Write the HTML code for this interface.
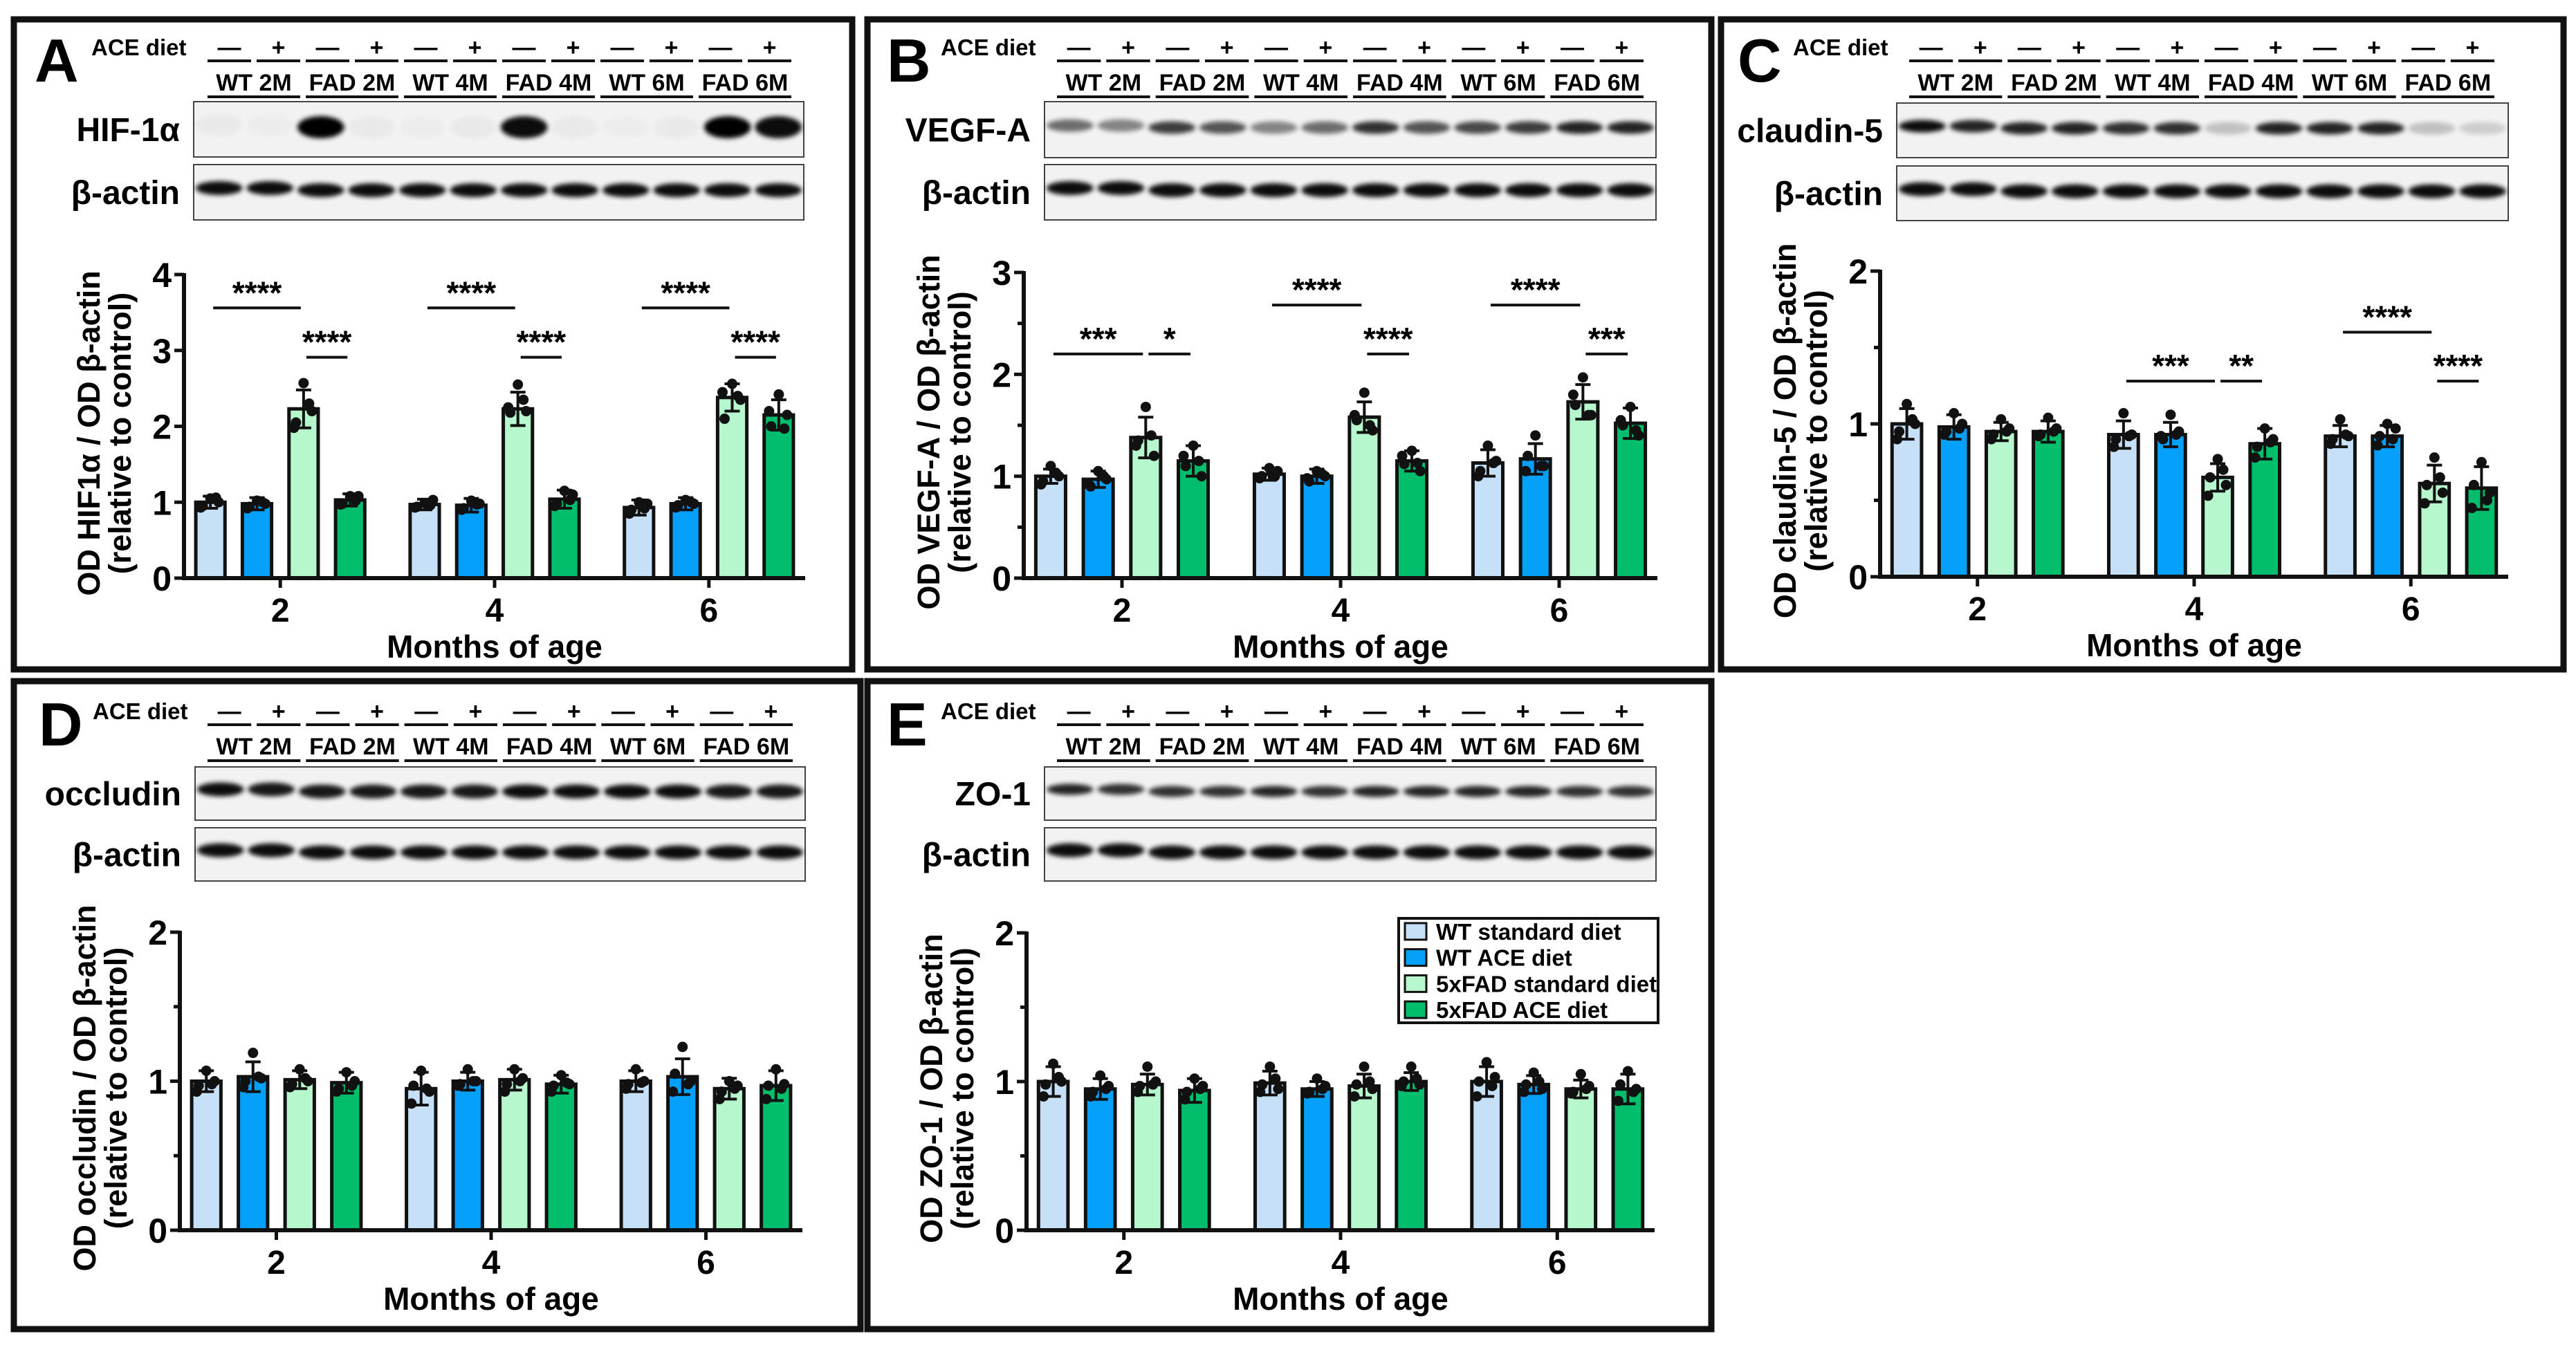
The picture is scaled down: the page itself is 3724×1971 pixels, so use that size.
<!DOCTYPE html>
<html><head><meta charset="utf-8"><title>Western blots and densitometry</title>
<style>
html,body{margin:0;padding:0;background:#fff;}
svg{display:block;font-family:"Liberation Sans",Arial,sans-serif;}
</style></head>
<body>
<svg id="fig" width="3724" height="1971" viewBox="0 0 3724 1971" xmlns="http://www.w3.org/2000/svg">
<defs>
<filter id="blur" x="-50%" y="-100%" width="200%" height="300%"><feGaussianBlur stdDeviation="3.5"/></filter>
</defs>
<rect x="0" y="0" width="3724" height="1971" fill="#fff"/>
</svg>
<script>
// ---------- shared categories ----------
const categories = ['2', '4', '6'];
const seriesNames = ['WT standard diet', 'WT ACE diet', '5xFAD standard diet', '5xFAD ACE diet'];
const laneGroups = ['WT 2M', 'FAD 2M', 'WT 4M', 'FAD 4M', 'WT 6M', 'FAD 6M'];

// ---------- Panel A: HIF-1a ----------
const hifMeans = [[1.0, 0.98, 2.23, 1.03], [0.97, 0.96, 2.23, 1.04], [0.93, 0.98, 2.38, 2.15]];
const hifSD = [[0.08, 0.08, 0.25, 0.08], [0.07, 0.09, 0.22, 0.12], [0.10, 0.08, 0.18, 0.20]];
const hifPoints = [
 [[1.05,0.95,1.0,0.93,1.06],[1.02,0.94,0.98,0.92,1.0],[2.57,2.05,2.2,1.98,2.3],[1.08,0.98,1.08,0.97,1.02]],
 [[0.99,0.94,1.03,0.93,0.96],[1.02,0.92,0.98,0.9,0.97],[2.55,2.18,2.2,2.25,2.35],[1.15,0.98,1.1,0.95,1.03]],
 [[1.0,0.9,0.98,0.85,0.92],[1.03,0.96,0.98,0.93,1.0],[2.56,2.1,2.35,2.45,2.4],[2.42,2.0,2.15,2.2,1.97]]];
const hifBrackets = [[0,0,2,3.56,'****'],[0,2,3,2.91,'****'],[1,0,2,3.56,'****'],[1,2,3,2.91,'****'],[2,0,2,3.56,'****'],[2,2,3,2.91,'****']];
const hifBands = [0.03,0.02,1.0,0.03,0.02,0.03,0.95,0.03,0.02,0.03,1.0,0.95];

// ---------- Panel B: VEGF-A ----------
const vegfMeans = [[1.0, 0.97, 1.38, 1.15], [1.02, 1.0, 1.58, 1.15], [1.13, 1.17, 1.73, 1.52]];
const vegfSD = [[0.07, 0.08, 0.20, 0.15], [0.06, 0.07, 0.15, 0.10], [0.13, 0.15, 0.17, 0.15]];
const vegfPoints = [
 [[1.1,0.95,1.0,0.92,1.03],[1.05,0.9,0.97,0.92,1.0],[1.68,1.35,1.2,1.3,1.4],[1.3,1.1,1.0,1.2,1.15]],
 [[1.08,1.0,1.05,0.98,1.0],[1.05,0.95,1.0,0.98,1.02],[1.82,1.55,1.45,1.6,1.5],[1.25,1.12,1.05,1.2,1.13]],
 [[1.3,1.05,1.15,1.0,1.13],[1.4,1.2,1.1,1.05,1.1],[1.97,1.7,1.6,1.8,1.6],[1.68,1.5,1.4,1.55,1.45]]];
const vegfBrackets = [[0,0,2,2.2,'***'],[0,2,3,2.2,'*'],[1,0,2,2.68,'****'],[1,2,3,2.2,'****'],[2,0,2,2.68,'****'],[2,2,3,2.2,'***']];
const vegfBands = [0.55,0.45,0.75,0.65,0.45,0.55,0.8,0.65,0.7,0.75,0.85,0.85];

// ---------- Panel C: claudin-5 ----------
const cldMeans = [[1.0, 0.98, 0.95, 0.95], [0.93, 0.93, 0.65, 0.87], [0.92, 0.92, 0.61, 0.58]];
const cldSD = [[0.10, 0.08, 0.06, 0.07], [0.09, 0.08, 0.09, 0.10], [0.07, 0.07, 0.12, 0.14]];
const cldPoints = [
 [[1.13,0.95,1.0,0.9,1.03],[1.07,0.95,1.0,0.93,0.97],[1.03,0.93,0.97,0.9,0.95],[1.04,0.93,0.97,0.92,0.95]],
 [[1.07,0.9,0.93,0.85,0.92],[1.06,0.9,0.95,0.92,0.93],[0.77,0.65,0.6,0.53,0.7],[0.97,0.85,0.9,0.78,0.88]],
 [[1.03,0.9,0.92,0.87,0.93],[1.0,0.92,0.97,0.86,0.9],[0.78,0.6,0.55,0.48,0.65],[0.75,0.6,0.55,0.45,0.5]]];
const cldBrackets = [[1,0,2,1.28,'***'],[1,2,3,1.28,'**'],[2,0,2,1.6,'****'],[2,2,3,1.28,'****']];
const cldBands = [0.95,0.85,0.85,0.85,0.8,0.8,0.2,0.85,0.85,0.85,0.2,0.15];

// ---------- Panel D: occludin ----------
const occMeans = [[1.0, 1.03, 1.01, 0.99], [0.95, 1.0, 1.01, 0.98], [1.0, 1.03, 0.95, 0.97]];
const occSD = [[0.07, 0.10, 0.06, 0.07], [0.11, 0.06, 0.07, 0.06], [0.07, 0.12, 0.07, 0.10]];
const occPoints = [
 [[1.07,0.97,1.0,0.93,0.98],[1.19,1.0,1.02,0.96,1.03],[1.08,0.98,1.0,0.96,1.02],[1.06,0.95,1.0,0.93,0.97]],
 [[1.07,0.97,0.93,0.85,0.95],[1.08,0.98,1.0,0.97,1.0],[1.08,0.98,1.02,0.93,1.0],[1.04,0.97,0.98,0.93,0.99]],
 [[1.08,0.98,1.0,0.95,0.99],[1.23,1.05,1.0,0.93,0.98],[1.0,0.93,0.97,0.88,0.95],[1.08,0.97,0.98,0.88,0.95]]];
const occBrackets = [];
const occBands = [0.95,0.9,0.9,0.9,0.9,0.9,0.95,0.95,0.95,0.95,0.9,0.9];

// ---------- Panel E: ZO-1 ----------
const zoMeans = [[1.0, 0.95, 0.98, 0.94], [0.99, 0.95, 0.97, 1.0], [1.0, 0.98, 0.95, 0.95]];
const zoSD = [[0.10, 0.07, 0.07, 0.08], [0.08, 0.05, 0.08, 0.06], [0.10, 0.06, 0.06, 0.10]];
const zoPoints = [
 [[1.12,0.98,1.0,0.9,1.03],[1.04,0.93,0.97,0.9,0.95],[1.1,0.97,1.0,0.93,0.98],[1.02,0.93,0.97,0.88,0.95]],
 [[1.1,0.98,0.95,0.93,1.02],[1.02,0.93,0.97,0.92,0.95],[1.1,0.98,0.95,0.9,1.0],[1.1,1.0,0.98,0.97,1.02]],
 [[1.13,1.0,1.03,0.9,0.97],[1.06,0.98,0.95,0.93,1.0],[1.05,0.93,0.97,0.92,0.95],[1.07,0.98,0.95,0.87,0.93]]];
const zoBrackets = [];
const zoBands = [0.85,0.8,0.8,0.8,0.85,0.8,0.85,0.85,0.85,0.85,0.8,0.8];

const actinBands = [0.95,0.95,0.95,0.95,0.95,0.95,0.95,0.95,0.95,0.95,0.95,0.95];

const colors = ['#c6e0f8', '#05a0f9', '#b6f7cd', '#00be6c'];
const NS = 'http://www.w3.org/2000/svg';
const svg = document.getElementById('fig');

function mk(tag, attrs, parent, text) {
  const el = document.createElementNS(NS, tag);
  for (const k in attrs) el.setAttribute(k, attrs[k]);
  if (text !== undefined) el.textContent = text;
  (parent || svg).appendChild(el);
  return el;
}

function drawPanel(p) {
  const g = mk('g', {});
  
  
  const fr = mk('rect', {x: p.box[0], y: p.box[1], width: p.box[2]-p.box[0], height: p.box[3]-p.box[1], fill: 'none', stroke: '#111', 'stroke-width': 9}, g);
  
  
  const h = p.hdr;
  const let_ = mk('text', {x: p.letterX, y: h + 118, 'font-size': 88, 'font-weight': 'bold'}, g, p.letter);
  
  
  const ace = mk('text', {x: p.aceX, y: h + 80, 'font-size': 33, 'font-weight': 'bold'}, g, 'ACE diet');
  
  
  const lw = (p.lanes[1] - p.lanes[0]) / 12;
  for (let i = 0; i < 12; i++) {
    const cx = p.lanes[0] + (i + 0.5) * lw;
    const t = mk('text', {x: cx, y: h + 80, 'font-size': 34, 'font-weight': 'bold', 'text-anchor': 'middle'}, g, i % 2 ? '+' : '—');
    
    
    mk('line', {x1: p.lanes[0] + i*lw + 4, x2: p.lanes[0] + (i+1)*lw - 4, y1: h + 88, y2: h + 88, stroke: '#111', 'stroke-width': 4}, g);
  }
  for (let j = 0; j < 6; j++) {
    const cx = p.lanes[0] + (2*j + 1) * lw;
    const t = mk('text', {x: cx, y: h + 131, 'font-size': 34, 'font-weight': 'bold', 'text-anchor': 'middle'}, g, laneGroups[j]);
    
    
    mk('line', {x1: p.lanes[0] + 2*j*lw + 4, x2: p.lanes[0] + (2*j+2)*lw - 4, y1: h + 140, y2: h + 140, stroke: '#111', 'stroke-width': 4}, g);
  }
  [[p.blot1, p.label, p.bands, p.bandH], [p.blot2, 'β-actin', actinBands, 10]].forEach((b, bi) => {
    const [yy, lab, bands, bh] = b;
    const r = mk('rect', {x: p.blotX[0], y: yy[0], width: p.blotX[1]-p.blotX[0], height: yy[1]-yy[0], fill: '#f2f2f2', stroke: '#444', 'stroke-width': 2}, g);
    
    
    const blw = (p.blotX[1] - p.blotX[0]) / 12;
    const cy = (yy[0] + yy[1]) / 2;
    bands.forEach((v, i) => {
      const e = mk('ellipse', {cx: p.blotX[0] + (i + 0.5) * blw, cy: cy - 3 + (i < 2 ? -3 : 0), rx: blw * 0.46, ry: bh, fill: '#000', opacity: v, filter: 'url(#blur)'}, g);
      
      
    });
    const tl = mk('text', {x: p.blotX[0] - 20, y: cy + 17, 'font-size': 48, 'font-weight': 'bold', 'text-anchor': 'end'}, g, lab);
    
    
  });
  const A = p.axis;
  const W = A.x1 - A.x0;
  const ys = v => A.y0 - (v / A.yMax) * (A.y0 - A.yTop);
  const gc = i => A.x0 + W * (0.155 + 0.345 * i);
  const bx = (i, s) => gc(i) + (s - 1.5) * W * 0.075;
  const bw = W * 0.047;
  const jitter = [0, -11, 12, -14, 8];
  for (let i = 0; i < 3; i++) {
    for (let s = 0; s < 4; s++) {
      const m = p.means[i][s], sd = p.sds[i][s], x = bx(i, s);
      const bar = mk('rect', {x: x - bw/2, y: ys(m), width: bw, height: A.y0 - ys(m), fill: colors[s], stroke: '#111', 'stroke-width': 5}, g);
      
      
      mk('line', {x1: x, x2: x, y1: ys(m + sd), y2: ys(m - sd), stroke: '#111', 'stroke-width': 4}, g);
      mk('line', {x1: x - 11, x2: x + 11, y1: ys(m + sd), y2: ys(m + sd), stroke: '#111', 'stroke-width': 4}, g);
      mk('line', {x1: x - 11, x2: x + 11, y1: ys(m - sd), y2: ys(m - sd), stroke: '#111', 'stroke-width': 4}, g);
      p.points[i][s].forEach((v, k) => {
        const c = mk('circle', {cx: x + jitter[k], cy: ys(v), r: 7.5, fill: '#111'}, g);
        
        
      });
    }
  }
  const ya = mk('line', {x1: A.x0, x2: A.x0, y1: A.yTop - 2, y2: A.y0 + 3, stroke: '#111', 'stroke-width': 6}, g);
  
  
  const xa = mk('line', {x1: A.x0 - 3, x2: A.x1, y1: A.y0, y2: A.y0, stroke: '#111', 'stroke-width': 6}, g);
  
  
  for (let v = 0; v <= A.yMax + 1e-9; v += A.minor ? 0.5 : 1) {
    const major = Math.abs(v - Math.round(v)) < 1e-6;
    mk('line', {x1: A.x0 - (major ? 14 : 9), x2: A.x0, y1: ys(v), y2: ys(v), stroke: '#111', 'stroke-width': 5}, g);
    if (major) {
      const t = mk('text', {x: A.x0 - 18, y: ys(v) + 18, 'font-size': 50, 'font-weight': 'bold', 'text-anchor': 'end'}, g, String(Math.round(v)));
      
      
    }
  }
  categories.forEach((c, i) => {
    mk('line', {x1: gc(i), x2: gc(i), y1: A.y0, y2: A.y0 + 14, stroke: '#111', 'stroke-width': 5}, g);
    const t = mk('text', {x: gc(i), y: A.y0 + 63, 'font-size': 48, 'font-weight': 'bold', 'text-anchor': 'middle'}, g, c);
    
    
  });
  const xt = mk('text', {x: (A.x0 + A.x1) / 2, y: A.y0 + 115, 'font-size': 46, 'font-weight': 'bold', 'text-anchor': 'middle'}, g, 'Months of age');
  
  
  const my = (A.y0 + A.yTop) / 2 + 10;
  const t1 = mk('text', {x: 0, y: 0, 'font-size': 45, 'font-weight': 'bold', 'text-anchor': 'middle', transform: `translate(${A.x0 - 122},${my}) rotate(-90)`}, g, p.ytitle);
  
  
  const t2 = mk('text', {x: 0, y: 0, 'font-size': 45, 'font-weight': 'bold', 'text-anchor': 'middle', transform: `translate(${A.x0 - 77},${my}) rotate(-90)`}, g, '(relative to control)');
  
  
  p.brackets.forEach(b => {
    const [gi, s1, s2, v, lab] = b;
    const x1 = bx(gi, s1) + 4, x2 = bx(gi, s2) - 4;
    const ln = mk('line', {x1: x1, x2: x2, y1: ys(v), y2: ys(v), stroke: '#111', 'stroke-width': 4}, g);
    
    
    const st = mk('text', {x: (x1 + x2) / 2, y: ys(v) - 6, 'font-size': 46, 'font-weight': 'bold', 'text-anchor': 'middle'}, g, lab);
    
    
  });
  if (p.legend) {
    const L = p.legend;
    const lg = mk('g', {}, g);
    
    
    mk('rect', {x: L[0], y: L[1], width: L[2] - L[0], height: L[3] - L[1], fill: '#fff', stroke: '#111', 'stroke-width': 4}, lg);
    const step = (L[3] - L[1]) / 4;
    seriesNames.forEach((n, s) => {
      const cy = L[1] + step * (s + 0.5);
      const e = mk('g', {}, lg);
      
      
      mk('rect', {x: L[0] + 9, y: cy - 12, width: 31, height: 24, fill: colors[s], stroke: '#111', 'stroke-width': 3}, e);
      mk('text', {x: L[0] + 54, y: cy + 12, 'font-size': 33, 'font-weight': 'bold'}, e, n);
    });
  }
}

drawPanel({letter: 'A', box: [20, 28, 1232, 968], hdr: 0, letterX: 50, aceX: 132, lanes: [296, 1148],
  blotX: [280, 1162], blot1: [147, 227], blot2: [238, 318], label: 'HIF-1α', bands: hifBands, bandH: 16,
  axis: {x0: 266, x1: 1164, y0: 836, yTop: 397, yMax: 4, minor: false},
  means: hifMeans, sds: hifSD, points: hifPoints, brackets: hifBrackets, ytitle: 'OD HIF1α / OD β-actin'});
drawPanel({letter: 'B', box: [1254, 28, 2474, 968], hdr: 0, letterX: 1282, aceX: 1360, lanes: [1524, 2380],
  blotX: [1510, 2394], blot1: [147, 228], blot2: [238, 318], label: 'VEGF-A', bands: vegfBands, bandH: 9,
  axis: {x0: 1480, x1: 2396, y0: 836, yTop: 394, yMax: 3, minor: true},
  means: vegfMeans, sds: vegfSD, points: vegfPoints, brackets: vegfBrackets, ytitle: 'OD VEGF-A / OD β-actin'});
drawPanel({letter: 'C', box: [2488, 28, 3706, 968], hdr: 0, letterX: 2512, aceX: 2592, lanes: [2756, 3610],
  blotX: [2742, 3626], blot1: [149, 228], blot2: [240, 319], label: 'claudin-5', bands: cldBands, bandH: 9,
  axis: {x0: 2718, x1: 3626, y0: 834, yTop: 392, yMax: 2, minor: true},
  means: cldMeans, sds: cldSD, points: cldPoints, brackets: cldBrackets, ytitle: 'OD claudin-5 / OD β-actin'});
drawPanel({letter: 'D', box: [20, 985, 1244, 1922], hdr: 960, letterX: 56, aceX: 134, lanes: [296, 1150],
  blotX: [282, 1164], blot1: [1109, 1186], blot2: [1197, 1274], label: 'occludin', bands: occBands, bandH: 10,
  axis: {x0: 260, x1: 1160, y0: 1779, yTop: 1348, yMax: 2, minor: true},
  means: occMeans, sds: occSD, points: occPoints, brackets: occBrackets, ytitle: 'OD occludin / OD β-actin'});
drawPanel({letter: 'E', box: [1254, 985, 2474, 1922], hdr: 960, letterX: 1282, aceX: 1360, lanes: [1524, 2380],
  blotX: [1510, 2394], blot1: [1109, 1186], blot2: [1197, 1274], label: 'ZO-1', bands: zoBands, bandH: 8,
  axis: {x0: 1484, x1: 2392, y0: 1779, yTop: 1349, yMax: 2, minor: true},
  means: zoMeans, sds: zoSD, points: zoPoints, brackets: zoBrackets, ytitle: 'OD ZO-1 / OD β-actin',
  legend: [2022, 1328, 2397, 1479]});
</script>
</body></html>
